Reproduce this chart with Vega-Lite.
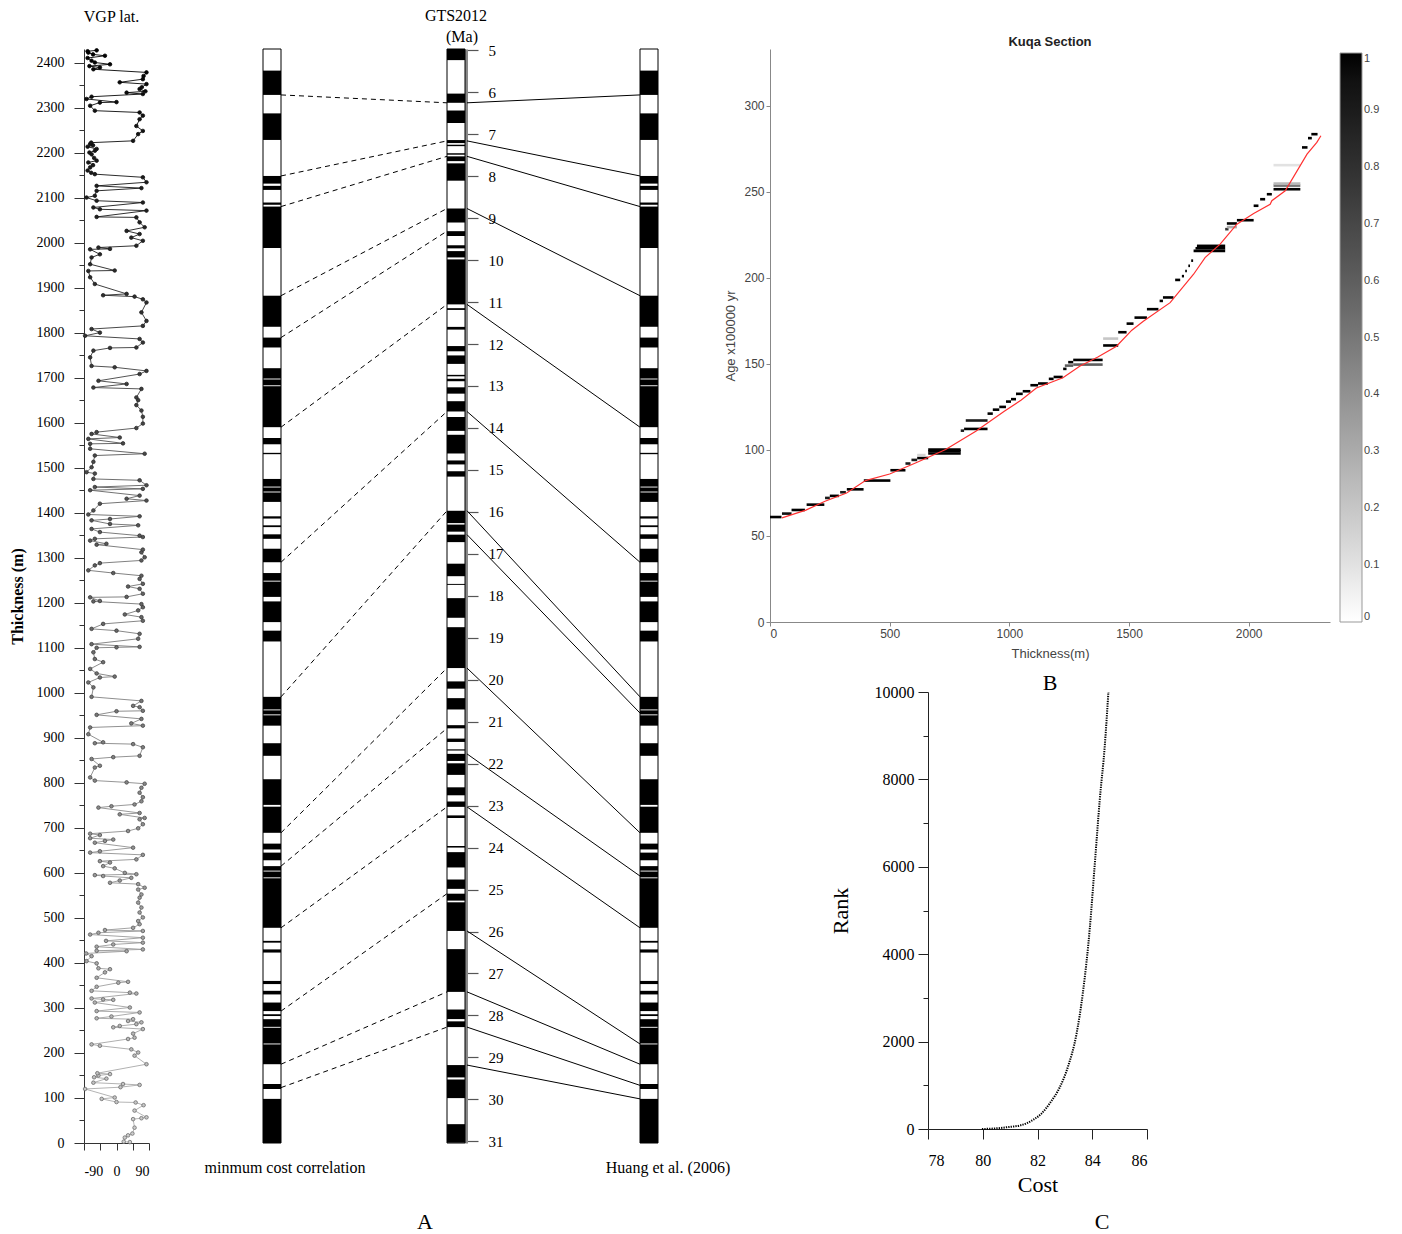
{
  "$schema": "https://vega.github.io/schema/vega-lite/v6.json",
  "background": "white",
  "padding": {"left": 9, "top": 7, "right": 5, "bottom": 5},
  "config": {"view": {"stroke": null}, "font": "Liberation Serif"},
  "datasets": {
    "kuqa": [
      {"b":0,"tp":98},{"b":120,"tp":131},{"b":175,"tp":219},{"b":221,"tp":256},{"b":258,"tp":275},{"b":282,"tp":286},{"b":293,"tp":312},{"b":330,"tp":338},{"b":353,"tp":360},{"b":423,"tp":430},{"b":445,"tp":449},{"b":478,"tp":588},{"b":590,"tp":603},{"b":605,"tp":615},{"b":628,"tp":645},{"b":652,"tp":665},{"b":689,"tp":747},{"b":751,"tp":808},{"b":860,"tp":888},{"b":927,"tp":950},{"b":952,"tp":961},{"b":963,"tp":991},{"b":1114,"tp":1138},{"b":1157,"tp":1203},{"b":1213,"tp":1247},{"b":1249,"tp":1266},{"b":1290,"tp":1320},{"b":1342,"tp":1352},{"b":1368,"tp":1372},{"b":1387,"tp":1392},{"b":1424,"tp":1445},{"b":1447,"tp":1456},{"b":1458,"tp":1475},{"b":1530,"tp":1533},{"b":1552,"tp":1566},{"b":1590,"tp":1681},{"b":1683,"tp":1696},{"b":1698,"tp":1721},{"b":1767,"tp":1789},{"b":1813,"tp":1882},{"b":1988,"tp":2080},{"b":2084,"tp":2089},{"b":2117,"tp":2126},{"b":2131,"tp":2148},{"b":2228,"tp":2287},{"b":2328,"tp":2382}
    ],
    "gts": [
      {"y0":4.97,"y1":5.235},{"y0":6.033,"y1":6.252},{"y0":6.436,"y1":6.733},{"y0":7.14,"y1":7.212},{"y0":7.251,"y1":7.285},{"y0":7.454,"y1":7.489},{"y0":7.528,"y1":7.642},{"y0":7.695,"y1":8.108},{"y0":8.771,"y1":9.105},{"y0":9.311,"y1":9.426},{"y0":9.647,"y1":9.721},{"y0":9.786,"y1":9.937},{"y0":9.984,"y1":11.056},{"y0":11.146,"y1":11.188},{"y0":11.592,"y1":11.657},{"y0":12.049,"y1":12.174},{"y0":12.272,"y1":12.474},{"y0":12.735,"y1":12.77},{"y0":12.829,"y1":12.887},{"y0":13.032,"y1":13.183},{"y0":13.363,"y1":13.608},{"y0":13.739,"y1":14.07},{"y0":14.163,"y1":14.609},{"y0":14.775,"y1":14.87},{"y0":15.032,"y1":15.16},{"y0":15.974,"y1":16.268},{"y0":16.303,"y1":16.472},{"y0":16.543,"y1":16.721},{"y0":17.235,"y1":17.533},{"y0":17.717,"y1":17.74},{"y0":18.056,"y1":18.524},{"y0":18.748,"y1":19.722},{"y0":20.04,"y1":20.213},{"y0":20.439,"y1":20.709},{"y0":21.083,"y1":21.159},{"y0":21.403,"y1":21.483},{"y0":21.659,"y1":21.688},{"y0":21.767,"y1":21.936},{"y0":21.992,"y1":22.268},{"y0":22.564,"y1":22.754},{"y0":22.902,"y1":23.03},{"y0":23.233,"y1":23.295},{"y0":23.962,"y1":24.0},{"y0":24.109,"y1":24.474},{"y0":24.761,"y1":24.984},{"y0":25.099,"y1":25.264},{"y0":25.304,"y1":25.987},{"y0":26.42,"y1":27.439},{"y0":27.859,"y1":28.087},{"y0":28.141,"y1":28.278},{"y0":29.183,"y1":29.477},{"y0":29.527,"y1":29.97},{"y0":30.591,"y1":31.034}
    ],
    "dashed": [
      {"t":2328,"te":2310.5},{"t":2148,"te":2225.9},{"t":2080,"te":2191.6},{"t":1882,"te":2075.7},{"t":1789,"te":2025.4},{"t":1590,"te":1862.7},{"t":1290,"te":1624.8},{"t":991,"te":1404.3},{"t":689,"te":1054.9},{"t":615,"te":921.0},{"t":478,"te":746.6},{"t":293,"te":553.8},{"t":175,"te":335.7},{"t":123,"te":257.4}
    ],
    "solid": [
      {"age":6.252,"te":2310.5,"t":2328},{"age":7.16,"te":2225.9,"t":2148},{"age":7.528,"te":2191.6,"t":2080},{"age":8.771,"te":2075.7,"t":1882},{"age":11.056,"te":1862.7,"t":1590},{"age":13.608,"te":1624.8,"t":1290},{"age":15.974,"te":1404.3,"t":991},{"age":16.543,"te":1351.3,"t":955},{"age":19.722,"te":1054.9,"t":689},{"age":21.767,"te":864.3,"t":593},{"age":23.03,"te":746.6,"t":478},{"age":25.987,"te":471.0,"t":220},{"age":27.439,"te":335.7,"t":175},{"age":28.278,"te":257.4,"t":128},{"age":29.183,"te":173.1,"t":98}
    ]
  },
  "bounds": "flush",
  "spacing": 35,
  "hconcat": [
    {
      "width": 65,
      "height": 1094,
      "title": {"text": "VGP lat.", "font": "Liberation Serif", "fontSize": 16, "fontWeight": "normal", "offset": 22, "dx": -5},
      "data": {"values": [
        {"t":2,"lat":37},{"t":3,"lat":20},{"t":12,"lat":23},{"t":17,"lat":32},{"t":21,"lat":44},{"t":34,"lat":50},{"t":53,"lat":46},{"t":55,"lat":69},{"t":57,"lat":83},{"t":72,"lat":50},{"t":84,"lat":75},{"t":90,"lat":53},{"t":91,"lat":0},{"t":98,"lat":-41},{"t":101,"lat":-5},{"t":120,"lat":-87},{"t":124,"lat":11},{"t":129,"lat":64},{"t":131,"lat":18},{"t":134,"lat":-64},{"t":143,"lat":-28},{"t":146,"lat":-62},{"t":150,"lat":-50},{"t":153,"lat":-18},{"t":155,"lat":-53},{"t":175,"lat":83},{"t":194,"lat":50},{"t":201,"lat":60},{"t":208,"lat":41},{"t":216,"lat":-46},{"t":219,"lat":-69},{"t":231,"lat":32},{"t":234,"lat":50},{"t":243,"lat":46},{"t":253,"lat":73},{"t":257,"lat":-9},{"t":260,"lat":9},{"t":264,"lat":55},{"t":268,"lat":69},{"t":271,"lat":32},{"t":275,"lat":46},{"t":277,"lat":-55},{"t":281,"lat":-14},{"t":290,"lat":64},{"t":293,"lat":-55},{"t":301,"lat":37},{"t":312,"lat":-60},{"t":318,"lat":-9},{"t":319,"lat":-37},{"t":321,"lat":-69},{"t":332,"lat":55},{"t":334,"lat":37},{"t":338,"lat":-69},{"t":347,"lat":-55},{"t":356,"lat":5},{"t":358,"lat":32},{"t":367,"lat":-55},{"t":379,"lat":-32},{"t":386,"lat":-18},{"t":388,"lat":-50},{"t":399,"lat":-55},{"t":404,"lat":-83},{"t":415,"lat":-69},{"t":421,"lat":-84},{"t":426,"lat":28},{"t":427,"lat":-55},{"t":430,"lat":73},{"t":436,"lat":-55},{"t":441,"lat":-9},{"t":445,"lat":73},{"t":449,"lat":-29},{"t":456,"lat":73},{"t":463,"lat":-73},{"t":467,"lat":-50},{"t":471,"lat":73},{"t":473,"lat":-32},{"t":478,"lat":46},{"t":486,"lat":64},{"t":493,"lat":60},{"t":501,"lat":73},{"t":512,"lat":64},{"t":523,"lat":69},{"t":534,"lat":60},{"t":545,"lat":64},{"t":552,"lat":69},{"t":563,"lat":60},{"t":567,"lat":78},{"t":575,"lat":60},{"t":578,"lat":-18},{"t":583,"lat":9},{"t":589,"lat":41},{"t":593,"lat":-37},{"t":595,"lat":-60},{"t":597,"lat":55},{"t":600,"lat":23},{"t":610,"lat":-5},{"t":615,"lat":-37},{"t":623,"lat":-18},{"t":626,"lat":-46},{"t":630,"lat":55},{"t":640,"lat":73},{"t":645,"lat":-73},{"t":648,"lat":-46},{"t":656,"lat":46},{"t":667,"lat":-60},{"t":671,"lat":-32},{"t":674,"lat":-9},{"t":677,"lat":-73},{"t":684,"lat":-46},{"t":687,"lat":-73},{"t":693,"lat":32},{"t":699,"lat":60},{"t":708,"lat":73},{"t":719,"lat":64},{"t":722,"lat":78},{"t":730,"lat":9},{"t":733,"lat":64},{"t":745,"lat":-50},{"t":748,"lat":-14},{"t":752,"lat":50},{"t":759,"lat":69},{"t":768,"lat":73},{"t":778,"lat":64},{"t":789,"lat":69},{"t":798,"lat":78},
        {"t":801,"lat":28},{"t":805,"lat":-60},{"t":812,"lat":-73},{"t":834,"lat":-60},{"t":838,"lat":-46},{"t":853,"lat":-69},{"t":857,"lat":-9},{"t":860,"lat":64},{"t":879,"lat":73},{"t":886,"lat":46},{"t":888,"lat":-60},{"t":890,"lat":-37},{"t":908,"lat":-78},{"t":923,"lat":-73},{"t":927,"lat":73},{"t":932,"lat":41},{"t":942,"lat":69},{"t":951,"lat":-55},{"t":959,"lat":0},{"t":960,"lat":73},{"t":968,"lat":64},{"t":971,"lat":46},{"t":982,"lat":69},{"t":991,"lat":-69},{"t":1012,"lat":-64},{"t":1023,"lat":-78},{"t":1034,"lat":-46},{"t":1036,"lat":-5},{"t":1043,"lat":-55},{"t":1053,"lat":-73},{"t":1068,"lat":-37},{"t":1075,"lat":-60},{"t":1090,"lat":-64},{"t":1100,"lat":-55},{"t":1101,"lat":0},{"t":1102,"lat":64},{"t":1108,"lat":-69},{"t":1120,"lat":60},{"t":1131,"lat":64},{"t":1138,"lat":0},{"t":1142,"lat":-69},{"t":1153,"lat":-37},{"t":1160,"lat":73},{"t":1168,"lat":69},{"t":1174,"lat":23},{"t":1183,"lat":60},{"t":1190,"lat":73},{"t":1197,"lat":69},{"t":1203,"lat":-64},{"t":1204,"lat":-46},{"t":1212,"lat":-73},{"t":1213,"lat":28},{"t":1220,"lat":73},{"t":1231,"lat":64},{"t":1236,"lat":32},{"t":1242,"lat":73},{"t":1253,"lat":64},{"t":1260,"lat":69},{"t":1266,"lat":-9},{"t":1272,"lat":-78},{"t":1283,"lat":-60},{"t":1288,"lat":-46},{"t":1294,"lat":69},{"t":1301,"lat":78},{"t":1312,"lat":69},{"t":1318,"lat":73},{"t":1329,"lat":-55},{"t":1331,"lat":-28},{"t":1338,"lat":-73},{"t":1342,"lat":-60},{"t":1346,"lat":73},{"t":1349,"lat":64},{"t":1357,"lat":-46},{"t":1364,"lat":-69},{"t":1372,"lat":60},{"t":1375,"lat":-18},{"t":1383,"lat":-69},{"t":1386,"lat":-18},{"t":1392,"lat":64},{"t":1396,"lat":-78},{"t":1405,"lat":-64},{"t":1420,"lat":-46},{"t":1427,"lat":83},{"t":1431,"lat":28},{"t":1438,"lat":64},{"t":1450,"lat":-73},{"t":1453,"lat":73},{"t":1457,"lat":-60},{"t":1461,"lat":83},{"t":1472,"lat":64},{"t":1475,"lat":-64},{"t":1487,"lat":-60},{"t":1490,"lat":-83},{"t":1501,"lat":-69},{"t":1513,"lat":-64},{"t":1527,"lat":-60},{"t":1531,"lat":78},{"t":1542,"lat":-73},{"t":1553,"lat":-73},{"t":1554,"lat":18},{"t":1564,"lat":-78},{"t":1567,"lat":9},{"t":1575,"lat":-69},{"t":1579,"lat":-55},{"t":1588,"lat":55},{"t":1598,"lat":73},{"t":1613,"lat":73},{"t":1627,"lat":69},{"t":1639,"lat":55},{"t":1650,"lat":60},
        {"t":1656,"lat":55},{"t":1675,"lat":69},{"t":1678,"lat":-64},{"t":1686,"lat":28},{"t":1693,"lat":-50},{"t":1708,"lat":64},{"t":1715,"lat":83},{"t":1723,"lat":-5},{"t":1726,"lat":-69},{"t":1745,"lat":-73},{"t":1760,"lat":-64},{"t":1766,"lat":-18},{"t":1767,"lat":55},{"t":1778,"lat":73},{"t":1786,"lat":64},{"t":1793,"lat":-87},{"t":1800,"lat":-46},{"t":1808,"lat":-69},{"t":1815,"lat":73},{"t":1826,"lat":83},{"t":1845,"lat":69},{"t":1867,"lat":83},{"t":1874,"lat":73},{"t":1880,"lat":50},{"t":1883,"lat":-37},{"t":1886,"lat":28},{"t":1908,"lat":-60},{"t":1923,"lat":-73},{"t":1937,"lat":-78},{"t":1938,"lat":-5},{"t":1952,"lat":-73},{"t":1967,"lat":-69},{"t":1974,"lat":-46},{"t":1985,"lat":-73},{"t":1986,"lat":-18},{"t":1989,"lat":-50},{"t":1993,"lat":55},{"t":2004,"lat":73},{"t":2011,"lat":41},{"t":2019,"lat":64},{"t":2026,"lat":28},{"t":2034,"lat":78},{"t":2045,"lat":64},{"t":2056,"lat":55},{"t":2057,"lat":-55},{"t":2071,"lat":83},{"t":2074,"lat":-46},{"t":2078,"lat":-64},{"t":2089,"lat":73},{"t":2093,"lat":-55},{"t":2100,"lat":-83},{"t":2104,"lat":-60},{"t":2115,"lat":-55},{"t":2121,"lat":69},{"t":2126,"lat":-55},{"t":2134,"lat":83},{"t":2145,"lat":73},{"t":2152,"lat":-60},{"t":2155,"lat":-70},{"t":2160,"lat":-80},{"t":2167,"lat":-73},{"t":2172,"lat":-65},{"t":2178,"lat":-78},{"t":2182,"lat":-55},{"t":2188,"lat":-62},{"t":2196,"lat":-69},{"t":2200,"lat":-75},{"t":2204,"lat":-60},{"t":2208,"lat":-55},{"t":2213,"lat":-80},{"t":2216,"lat":-65},{"t":2219,"lat":-73},{"t":2222,"lat":-70},{"t":2226,"lat":46},{"t":2241,"lat":60},{"t":2248,"lat":73},{"t":2259,"lat":55},{"t":2274,"lat":64},{"t":2282,"lat":73},{"t":2289,"lat":64},{"t":2293,"lat":-60},{"t":2304,"lat":-73},{"t":2311,"lat":-46},{"t":2312,"lat":0},{"t":2319,"lat":-83},{"t":2324,"lat":-69},{"t":2330,"lat":73},{"t":2333,"lat":28},{"t":2336,"lat":80},{"t":2341,"lat":64},{"t":2345,"lat":70},{"t":2352,"lat":83},{"t":2356,"lat":9},{"t":2363,"lat":73},{"t":2370,"lat":75},{"t":2378,"lat":83},{"t":2385,"lat":-64},{"t":2389,"lat":-46},{"t":2392,"lat":-75},{"t":2396,"lat":-18},{"t":2400,"lat":-60},{"t":2404,"lat":-69},{"t":2410,"lat":-80},{"t":2415,"lat":-32},{"t":2418,"lat":-65},{"t":2422,"lat":-78},{"t":2425,"lat":-80},{"t":2427,"lat":-55}
      ]},
      "encoding": {
        "x": {"field": "lat", "type": "quantitative", "scale": {"domain": [-90, 90], "nice": false},
          "axis": {"values": [-90, -45, 0, 45, 90], "labelExpr": "datum.value === -90 ? '-90' : (datum.value === 0 ? '0' : (datum.value === 90 ? '90' : ''))", "title": null, "grid": false, "tickSize": 7, "labelFont": "Liberation Serif", "labelFontSize": 14, "labelColor": "black", "labelPadding": 14, "domainColor": "#333", "tickColor": "#333"}},
        "y": {"field": "t", "type": "quantitative", "scale": {"domain": [0, 2430], "nice": false},
          "axis": {"values": [0,50,100,150,200,250,300,350,400,450,500,550,600,650,700,750,800,850,900,950,1000,1050,1100,1150,1200,1250,1300,1350,1400,1450,1500,1550,1600,1650,1700,1750,1800,1850,1900,1950,2000,2050,2100,2150,2200,2250,2300,2350,2400],
            "format": "d",
            "labelExpr": "datum.value % 100 === 0 ? datum.label : ''",
            "tickSize": {"condition": {"test": "datum.value % 100 === 0", "value": 10}, "value": 5},
            "labelPadding": 10, "labelFont": "Liberation Serif", "labelFontSize": 14, "labelColor": "black", "grid": false,
            "domainColor": "#333", "tickColor": "#333",
            "title": "Thickness (m)", "titleFont": "Liberation Serif", "titleFontSize": 16, "titleFontWeight": "bold", "titleColor": "black", "titlePadding": 11}}
      },
      "layer": [
        {"mark": {"type": "line", "strokeWidth": 0.9, "color": {"gradient": "linear", "x1": 0, "y1": 1, "x2": 0, "y2": 0, "stops": [{"offset": 0, "color": "#b0b0b0"}, {"offset": 0.55, "color": "#707070"}, {"offset": 0.8, "color": "#222222"}, {"offset": 1, "color": "#000000"}]}},
         "encoding": {"order": {"field": "t", "type": "quantitative"}}},
        {"mark": {"type": "circle", "size": 13, "strokeWidth": 0.8, "opacity": 1},
         "encoding": {
           "fill": {"field": "t", "type": "quantitative", "scale": {"domain": [0, 2430], "range": ["#cfcfcf", "#000000"]}, "legend": null},
           "stroke": {"field": "t", "type": "quantitative", "scale": {"domain": [0, 2430], "range": ["#707070", "#000000"]}, "legend": null}
         }}
      ]
    },
    {
      "width": 551,
      "height": 1094,
      "layer": [
        {
          "layer": [
            {"data": {"name": "kuqa"}, "mark": {"type": "rect", "color": "black"},
             "encoding": {"x": {"datum": 1.58, "type": "quantitative", "scale": {"domain": [0, 11.02], "nice": false, "zero": false}, "axis": null},
               "x2": {"datum": 1.94},
               "y": {"field": "b", "type": "quantitative", "scale": {"domain": [0, 2430], "nice": false}, "axis": null},
               "y2": {"field": "tp"}}},
            {"data": {"name": "kuqa"}, "mark": {"type": "rect", "color": "black"},
             "encoding": {"x": {"datum": 9.12, "type": "quantitative"}, "x2": {"datum": 9.48},
               "y": {"field": "b", "type": "quantitative", "scale": {"domain": [0, 2430], "nice": false}, "axis": null},
               "y2": {"field": "tp"}}},
            {"data": {"values": [{}]}, "mark": {"type": "rect", "fillOpacity": 0, "stroke": "black", "strokeWidth": 1},
             "encoding": {"x": {"datum": 1.58, "type": "quantitative"}, "x2": {"datum": 1.94},
               "y": {"datum": 0, "type": "quantitative", "scale": {"domain": [0, 2430], "nice": false}, "axis": null}, "y2": {"datum": 2430}}},
            {"data": {"values": [{}]}, "mark": {"type": "rect", "fillOpacity": 0, "stroke": "black", "strokeWidth": 1},
             "encoding": {"x": {"datum": 9.12, "type": "quantitative"}, "x2": {"datum": 9.48},
               "y": {"datum": 0, "type": "quantitative", "scale": {"domain": [0, 2430], "nice": false}, "axis": null}, "y2": {"datum": 2430}}},
            {"data": {"name": "dashed"}, "mark": {"type": "rule", "color": "black", "strokeWidth": 1, "strokeDash": [5, 4]},
             "encoding": {"x": {"datum": 1.94, "type": "quantitative"}, "x2": {"datum": 5.26},
               "y": {"field": "t", "type": "quantitative", "scale": {"domain": [0, 2430], "nice": false}, "axis": null}, "y2": {"field": "te"}}},
            {"data": {"name": "solid"}, "mark": {"type": "rule", "color": "black", "strokeWidth": 1},
             "encoding": {"x": {"datum": 5.66, "type": "quantitative"}, "x2": {"datum": 9.12},
               "y": {"field": "te", "type": "quantitative", "scale": {"domain": [0, 2430], "nice": false}, "axis": null}, "y2": {"field": "t"}}},
            {"data": {"values": [{}]}, "mark": {"type": "text", "font": "Liberation Serif", "fontSize": 16, "baseline": "middle", "align": "center"},
             "encoding": {"x": {"datum": 2.02, "type": "quantitative"}, "y": {"datum": -55, "type": "quantitative", "scale": {"domain": [0, 2430], "nice": false}, "axis": null}, "text": {"value": "minmum cost correlation"}}},
            {"data": {"values": [{}]}, "mark": {"type": "text", "font": "Liberation Serif", "fontSize": 16, "baseline": "middle", "align": "center"},
             "encoding": {"x": {"datum": 9.68, "type": "quantitative"}, "y": {"datum": -55, "type": "quantitative", "scale": {"domain": [0, 2430], "nice": false}, "axis": null}, "text": {"value": "Huang et al. (2006)"}}},
            {"data": {"values": [{}]}, "mark": {"type": "text", "font": "Liberation Serif", "fontSize": 22, "baseline": "middle", "align": "center"},
             "encoding": {"x": {"datum": 4.82, "type": "quantitative"}, "y": {"datum": -175, "type": "quantitative", "scale": {"domain": [0, 2430], "nice": false}, "axis": null}, "text": {"value": "A"}}},
            {"data": {"values": [{}]}, "mark": {"type": "text", "font": "Liberation Serif", "fontSize": 16, "baseline": "middle", "align": "center"},
             "encoding": {"x": {"datum": 5.44, "type": "quantitative"}, "y": {"datum": 2504, "type": "quantitative", "scale": {"domain": [0, 2430], "nice": false}, "axis": null}, "text": {"value": "GTS2012"}}},
            {"data": {"values": [{}]}, "mark": {"type": "text", "font": "Liberation Serif", "fontSize": 16, "baseline": "middle", "align": "center"},
             "encoding": {"x": {"datum": 5.56, "type": "quantitative"}, "y": {"datum": 2457, "type": "quantitative", "scale": {"domain": [0, 2430], "nice": false}, "axis": null}, "text": {"value": "(Ma)"}}}
          ]
        },
        {
          "layer": [
            {"data": {"name": "gts"}, "mark": {"type": "rect", "color": "black"},
             "encoding": {"x": {"datum": 5.26, "type": "quantitative"}, "x2": {"datum": 5.62},
               "y": {"field": "y0", "type": "quantitative", "scale": {"domain": [4.97, 31.04], "reverse": true, "nice": false, "zero": false},
                 "axis": {"orient": "right", "offset": -269, "values": [5,5.5,6,6.5,7,7.5,8,8.5,9,9.5,10,10.5,11,11.5,12,12.5,13,13.5,14,14.5,15,15.5,16,16.5,17,17.5,18,18.5,19,19.5,20,20.5,21,21.5,22,22.5,23,23.5,24,24.5,25,25.5,26,26.5,27,27.5,28,28.5,29,29.5,30,30.5,31],
                   "labelExpr": "datum.value % 1 === 0 ? datum.label : ''",
                   "tickSize": {"condition": {"test": "datum.value % 1 === 0", "value": 12}, "value": 7},
                   "labelPadding": 10, "labelFont": "Liberation Serif", "labelFontSize": 15, "labelColor": "black", "grid": false, "title": null,
                   "domainColor": "#888", "domainWidth": 3, "tickColor": "#555", "tickWidth": 1.2}},
               "y2": {"field": "y1"}}},
            {"data": {"values": [{}]}, "mark": {"type": "rect", "fillOpacity": 0, "stroke": "black", "strokeWidth": 1},
             "encoding": {"x": {"datum": 5.26, "type": "quantitative"}, "x2": {"datum": 5.62},
               "y": {"datum": 4.97, "type": "quantitative", "scale": {"domain": [4.97, 31.04], "reverse": true, "nice": false, "zero": false}}, "y2": {"datum": 31.04}}}
          ]
        }
      ],
      "resolve": {"scale": {"y": "independent"}, "axis": {"y": "independent"}}
    },
    {
      "bounds": "flush",
      "spacing": 70,
      "vconcat": [
        {
          "width": 560,
          "height": 573,
          "title": {"text": "Kuqa Section", "font": "Liberation Sans", "fontSize": 13, "fontWeight": "bold", "color": "#222", "offset": 0},
          "layer": [
            {"data": {"values": [
              {"a":0,"b":48,"age":61,"p":1},{"a":50,"b":90,"age":63,"p":0.95},{"a":90,"b":146,"age":65.1,"p":1},{"a":153,"b":227,"age":68.2,"p":1},{"a":230,"b":250,"age":72.1,"p":0.9},{"a":250,"b":288,"age":73.3,"p":1},{"a":293,"b":317,"age":75.4,"p":0.9},{"a":321,"b":391,"age":77.1,"p":1},{"a":392,"b":503,"age":82.2,"p":1},{"a":503,"b":566,"age":88.2,"p":1},{"a":566,"b":587,"age":92.1,"p":0.9},{"a":591,"b":615,"age":94.2,"p":0.9},{"a":615,"b":661,"age":95.3,"p":1},{"a":615,"b":650,"age":97,"p":0.15},{"a":661,"b":797,"age":100.2,"p":1},{"a":661,"b":797,"age":99.2,"p":1},{"a":661,"b":797,"age":97.9,"p":1},{"a":797,"b":811,"age":111.2,"p":0.9},{"a":811,"b":909,"age":112.2,"p":1},{"a":818,"b":909,"age":117.1,"p":0.9},{"a":909,"b":931,"age":121.1,"p":1},{"a":931,"b":958,"age":123.4,"p":1},{"a":958,"b":986,"age":125,"p":1},{"a":986,"b":1007,"age":128.1,"p":1},{"a":1007,"b":1028,"age":129.5,"p":1},{"a":1028,"b":1056,"age":132.6,"p":1},{"a":1056,"b":1088,"age":134.1,"p":1},{"a":1088,"b":1120,"age":137.6,"p":1},{"a":1120,"b":1161,"age":138.6,"p":1},{"a":1165,"b":1185,"age":141.3,"p":1},{"a":1185,"b":1223,"age":142.4,"p":1},{"a":1225,"b":1239,"age":147.1,"p":1},{"a":1232,"b":1267,"age":149,"p":0.6},{"a":1246,"b":1267,"age":151,"p":1},{"a":1267,"b":1390,"age":152.3,"p":1},{"a":1267,"b":1390,"age":149.6,"p":0.6},{"a":1392,"b":1455,"age":160.7,"p":1},{"a":1392,"b":1455,"age":164.7,"p":0.2},{"a":1455,"b":1490,"age":168.4,"p":1},{"a":1490,"b":1519,"age":173.4,"p":1},{"a":1523,"b":1575,"age":176.9,"p":1},{"a":1575,"b":1623,"age":181.8,"p":1},{"a":1628,"b":1642,"age":186.6,"p":1},{"a":1642,"b":1686,"age":188.6,"p":1},{"a":1693,"b":1714,"age":198.8,"p":1},{"a":1721,"b":1730,"age":201,"p":1},{"a":1735,"b":1742,"age":204,"p":1},{"a":1748,"b":1755,"age":207,"p":1},{"a":1760,"b":1768,"age":210,"p":1},{"a":1770,"b":1902,"age":215.7,"p":1},{"a":1778,"b":1902,"age":217.2,"p":1},{"a":1784,"b":1902,"age":218.6,"p":1},{"a":1902,"b":1916,"age":228.3,"p":0.8},{"a":1909,"b":1951,"age":231.6,"p":1},{"a":1909,"b":1951,"age":229.5,"p":0.3},{"a":1951,"b":2021,"age":233.5,"p":1},{"a":2021,"b":2041,"age":241.9,"p":1},{"a":2048,"b":2069,"age":245.7,"p":1},{"a":2076,"b":2097,"age":248.6,"p":1},{"a":2104,"b":2216,"age":251.5,"p":1},{"a":2104,"b":2216,"age":253.6,"p":0.5},{"a":2104,"b":2216,"age":254.8,"p":0.25},{"a":2104,"b":2216,"age":265.5,"p":0.1},{"a":2223,"b":2246,"age":275.8,"p":1},{"a":2248,"b":2264,"age":281.2,"p":1},{"a":2262,"b":2288,"age":283.5,"p":1}
            ]},
             "mark": {"type": "rule", "strokeWidth": 2.6, "strokeCap": "butt"},
             "encoding": {
               "x": {"field": "a", "type": "quantitative", "scale": {"domain": [0, 2340], "nice": false},
                 "axis": {"values": [0, 500, 1000, 1500, 2000], "format": "d", "title": "Thickness(m)", "grid": false, "tickSize": 4, "labelFont": "Liberation Sans", "labelFontSize": 12, "labelColor": "#444", "titleFont": "Liberation Sans", "titleFontSize": 13, "titleFontWeight": "normal", "titleColor": "#444", "domainColor": "#888", "tickColor": "#888", "titlePadding": 8}},
               "x2": {"field": "b"},
               "y": {"field": "age", "type": "quantitative", "scale": {"domain": [0, 333], "nice": false},
                 "axis": {"values": [0, 50, 100, 150, 200, 250, 300], "title": "Age x100000 yr", "grid": false, "tickSize": 4, "labelFont": "Liberation Sans", "labelFontSize": 12, "labelColor": "#444", "titleFont": "Liberation Sans", "titleFontSize": 13, "titleFontWeight": "normal", "titleColor": "#444", "domainColor": "#888", "tickColor": "#888", "titlePadding": 6}},
               "color": {"field": "p", "type": "quantitative", "scale": {"domain": [0, 1], "range": ["#ffffff", "#000000"]},
                 "legend": {"title": null, "orient": "right", "offset": 6, "padding": 4, "direction": "vertical", "gradientLength": 569, "gradientThickness": 22, "gradientStrokeColor": "#999", "gradientStrokeWidth": 1, "values": [0, 0.1, 0.2, 0.3, 0.4, 0.5, 0.6, 0.7, 0.8, 0.9, 1], "format": "~g", "labelFont": "Liberation Sans", "labelFontSize": 11, "labelColor": "#444"}}
             }},
            {"data": {"values": [
              {"t":50,"age":60.5},{"t":150,"age":65},{"t":230,"age":70.2},{"t":320,"age":75},{"t":399,"age":82.2},{"t":500,"age":86},{"t":608,"age":92.4},{"t":734,"age":100.2},{"t":860,"age":110.9},{"t":979,"age":122.5},{"t":1050,"age":129},{"t":1113,"age":136},{"t":1224,"age":141.9},{"t":1294,"age":148.6},{"t":1370,"age":154},{"t":1448,"age":160.3},{"t":1512,"age":169.6},{"t":1560,"age":174.8},{"t":1672,"age":185.6},{"t":1770,"age":202.1},{"t":1818,"age":211.8},{"t":1881,"age":219.6},{"t":1951,"age":231.2},{"t":2021,"age":237.4},{"t":2090,"age":242.8},{"t":2097,"age":244.8},{"t":2153,"age":250.6},{"t":2244,"age":271.9},{"t":2285,"age":278.7},{"t":2302,"age":282.6}
            ]},
             "mark": {"type": "line", "color": "#ff3030", "strokeWidth": 1.2},
             "encoding": {"x": {"field": "t", "type": "quantitative"}, "y": {"field": "age", "type": "quantitative"}}},
            {"data": {"values": [{}]}, "mark": {"type": "text", "font": "Liberation Serif", "fontSize": 22, "baseline": "middle", "align": "center", "color": "black"},
             "encoding": {"x": {"datum": 1170, "type": "quantitative"}, "y": {"datum": -35.5, "type": "quantitative"}, "text": {"value": "B"}}}
          ]
        },
        {
          "bounds": "flush",
          "spacing": 157,
          "hconcat": [
            {"width": 1, "height": 1, "data": {"values": []}, "mark": {"type": "point", "opacity": 0}},
            {
              "width": 219,
              "height": 437,
              "layer": [
                {"data": {"values": [
                  {"cost":79.97,"rank":0},{"cost":80.5,"rank":15},{"cost":80.98,"rank":48},{"cost":81.35,"rank":80},{"cost":81.6,"rank":130},{"cost":81.84,"rank":210},{"cost":82.14,"rank":350},{"cost":82.45,"rank":590},{"cost":82.81,"rank":950},{"cost":83.12,"rank":1440},{"cost":83.42,"rank":2160},{"cost":83.66,"rank":3130},{"cost":83.91,"rank":4590},{"cost":84.09,"rank":6040},{"cost":84.27,"rank":7500},{"cost":84.46,"rank":8790},{"cost":84.59,"rank":10000}
                ]},
                 "mark": {"type": "line", "color": "black", "strokeWidth": 2, "strokeDash": [1.3, 1.1], "interpolate": "monotone"},
                 "encoding": {
                   "x": {"field": "cost", "type": "quantitative", "scale": {"domain": [78, 86], "nice": false, "zero": false},
                     "axis": {"values": [78, 79, 80, 81, 82, 83, 84, 85, 86], "labelExpr": "datum.value % 2 === 0 ? datum.label : ''",
                       "tickSize": {"condition": {"test": "datum.value % 2 === 0", "value": 10}, "value": 5},
                       "labelFont": "Liberation Serif", "labelFontSize": 16, "labelColor": "black", "labelPadding": 13, "grid": false,
                       "title": "Cost", "titleFont": "Liberation Serif", "titleFontSize": 22, "titleFontWeight": "normal", "titleColor": "black", "titlePadding": 6,
                       "domainColor": "#222", "tickColor": "#222"}},
                   "y": {"field": "rank", "type": "quantitative", "scale": {"domain": [0, 10000], "nice": false},
                     "axis": {"values": [0, 1000, 2000, 3000, 4000, 5000, 6000, 7000, 8000, 9000, 10000], "labelExpr": "datum.value % 2000 === 0 ? datum.label : ''",
                       "tickSize": {"condition": {"test": "datum.value % 2000 === 0", "value": 10}, "value": 5},
                       "labelFont": "Liberation Serif", "labelFontSize": 16, "labelColor": "black", "labelPadding": 4, "grid": false, "format": "d",
                       "title": "Rank", "titleFont": "Liberation Serif", "titleFontSize": 22, "titleFontWeight": "normal", "titleColor": "black", "titlePadding": 22,
                       "domainColor": "#222", "tickColor": "#222"}}
                 }},
                {"data": {"values": [{}]}, "mark": {"type": "text", "font": "Liberation Serif", "fontSize": 22, "baseline": "middle", "align": "center", "color": "black"},
                 "encoding": {"x": {"datum": 84.36, "type": "quantitative"}, "y": {"datum": -2130, "type": "quantitative"}, "text": {"value": "C"}}}
              ]
            }
          ]
        }
      ]
    }
  ]
}
